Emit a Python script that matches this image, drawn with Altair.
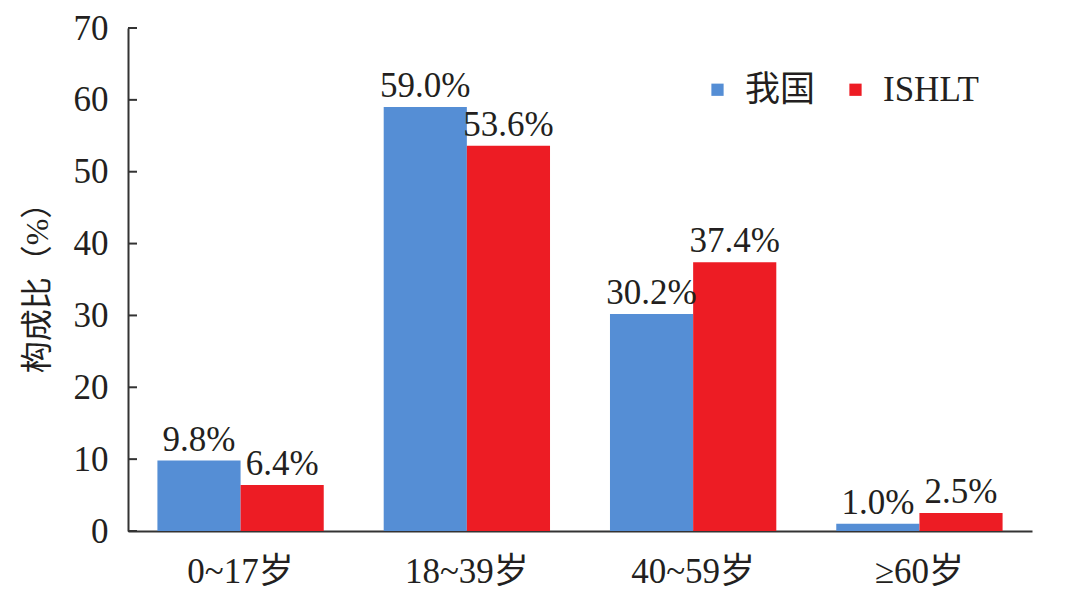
import altair as alt
import pandas as pd

categories = ["0~17岁", "18~39岁", "40~59岁", "≥60岁"]
series = ["我国", "ISHLT"]
china_values = [9.8, 59.0, 30.2, 1.0]
ishlt_values = [6.4, 53.6, 37.4, 2.5]
y_ticks = [0, 10, 20, 30, 40, 50, 60, 70]

rows = []
for c, a, b in zip(categories, china_values, ishlt_values):
    rows.append({"cat": c, "series": series[0], "value": a, "label": f"{a:.1f}%"})
    rows.append({"cat": c, "series": series[1], "value": b, "label": f"{b:.1f}%"})
df = pd.DataFrame(rows)
ticks_df = pd.DataFrame({"t": y_ticks})

FONT = "Liberation Serif, Times New Roman, Noto Sans CJK SC"
TXT = "#231F20"
FS = 35

x_enc = alt.X("cat:N", sort=categories, title=None,
              scale=alt.Scale(paddingInner=0.265, paddingOuter=0.13),
              axis=alt.Axis(labelAngle=0, ticks=False, labelPadding=23, labelFontSize=FS,
                            labelFont=FONT, labelColor=TXT, domainColor="#333333",
                            domainWidth=2))
y_scale = alt.Scale(domain=[0, 70], nice=False)
color = alt.Color("series:N", sort=series,
                  scale=alt.Scale(domain=series, range=["#558ED5", "#ED1C24"]),
                  legend=alt.Legend(title=None, orient="none", direction="horizontal",
                                    legendX=572, legendY=44, symbolType="square",
                                    symbolSize=150, symbolStrokeWidth=0,
                                    labelFontSize=FS, labelFont=FONT, labelColor=TXT,
                                    labelOffset=10, columnPadding=22))

bars = alt.Chart(df).mark_bar().encode(
    x=x_enc,
    xOffset=alt.XOffset("series:N", sort=series, scale=alt.Scale(paddingInner=0, paddingOuter=0)),
    y=alt.Y("value:Q", scale=y_scale, title="构成比（%）",
            axis=alt.Axis(values=y_ticks, ticks=False, grid=False, labelFontSize=FS,
                          labelFont=FONT, labelColor=TXT, labelPadding=20,
                          titleFontSize=32, titleFont=FONT, titleColor=TXT,
                          titleFontWeight="normal", titlePadding=19,
                          domainColor="#333333", domainWidth=2)),
    color=color,
)

text = alt.Chart(df).mark_text(dy=-10, baseline="alphabetic", fontSize=FS, font=FONT,
                               color=TXT).encode(
    x=alt.X("cat:N", sort=categories),
    xOffset=alt.XOffset("series:N", sort=series),
    y=alt.Y("value:Q", scale=y_scale),
    text="label:N",
)

tick_marks = alt.Chart(ticks_df).mark_rule(color="#333333", strokeWidth=2).encode(
    x=alt.value(0), x2=alt.value(9),
    y=alt.Y("t:Q", scale=y_scale),
)

chart = alt.layer(bars, text, tick_marks).properties(
    width=904, height=503,
    autosize=alt.AutoSizeParams(type="none"),
    padding={"left": 120, "top": 20, "right": 30, "bottom": 60},
).configure_view(stroke=None)

chart.save("out.html", embed_options={"renderer": "svg", "actions": False})
